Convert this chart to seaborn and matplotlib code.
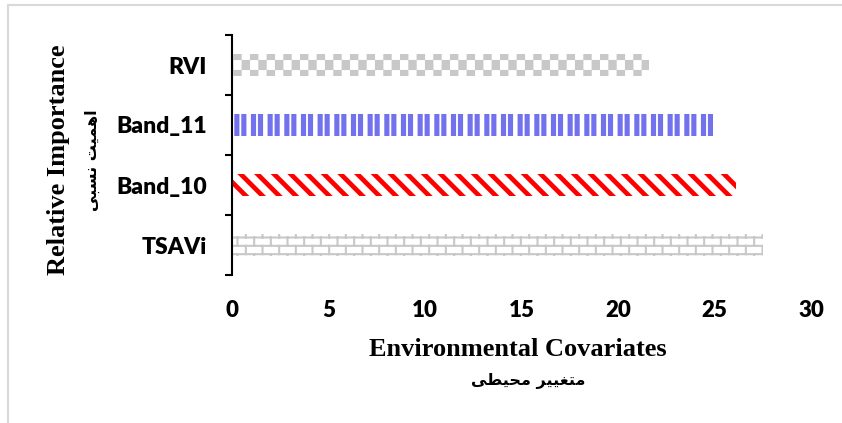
import warnings
import numpy as np
import pandas as pd
import matplotlib
matplotlib.use('Agg')
import matplotlib.pyplot as plt
import matplotlib.hatch as mhatch
from matplotlib import font_manager
from matplotlib.ft2font import FT2Font
from matplotlib.path import Path
from matplotlib.lines import Line2D
from matplotlib.ticker import FixedLocator
import seaborn as sns

warnings.filterwarnings('ignore')

# ---------------- data ----------------
categories = ['RVI', 'Band_11', 'Band_10', 'TSAVi']
importance = [21.6, 24.9, 26.1, 27.5]
x_ticks = [0, 5, 10, 15, 20, 25, 30]
x_label = 'Environmental Covariates'
x_label_fa = 'متغییر محیطی'
y_label = 'Relative Importance'
y_label_fa = 'اهمیت نسبی'

# ---------------- custom fill patterns ----------------
class _RectHatch(mhatch.HatchPatternBase):
    key = '#'

    def rects(self):
        return []

    def __init__(self, hatch, density):
        self.items = self.rects() if self.key in hatch else []
        self.num_vertices = 5 * len(self.items)

    def set_vertices_and_codes(self, vertices, codes):
        for k, (x, y, w, h) in enumerate(self.items):
            vertices[5 * k:5 * k + 5] = [(x, y), (x + w, y), (x + w, y + h), (x, y + h), (x, y)]
            codes[5 * k] = Path.MOVETO
            codes[5 * k + 1:5 * k + 4] = Path.LINETO
            codes[5 * k + 4] = Path.CLOSEPOLY


class CheckerHatch(_RectHatch):
    key = 'c'

    def rects(self):
        nx, ny = 12, 10
        return [(i / nx, j / ny, 1 / nx, 1 / ny)
                for i in range(nx) for j in range(ny) if (i + j) % 2 == 0]


class PairStripeHatch(_RectHatch):
    key = 'p'

    def rects(self):
        out = []
        for k in range(6):
            x0 = k / 6 + 0.01
            out.append((x0, -0.01, 0.05, 1.02))
            out.append((x0 + 0.07, -0.01, 0.05, 1.02))
        return out


class BrickHatch(mhatch.HatchPatternBase):
    def __init__(self, hatch, density):
        self.on = 'k' in hatch
        self.segs = []
        if self.on:
            rows = 12
            for j in range(rows):
                y = (j + 0.5) / rows
                self.segs.append(((0, y), (1, y)))
                for i in range(6):
                    x = (i + 0.25 + 0.5 * (j % 2)) / 6
                    self.segs.append(((x, y), (x, y + 1 / rows)))
        self.num_vertices = 2 * len(self.segs)

    def set_vertices_and_codes(self, vertices, codes):
        for k, (a, b) in enumerate(self.segs):
            vertices[2 * k] = a
            vertices[2 * k + 1] = b
            codes[2 * k] = Path.MOVETO
            codes[2 * k + 1] = Path.LINETO


mhatch._hatch_types.extend([CheckerHatch, PairStripeHatch, BrickHatch])

# ---------------- simple Persian shaping for display ----------------
_ar_font_path = font_manager.findfont(font_manager.FontProperties(family='DejaVu Sans', weight='bold'))
_cmap = FT2Font(_ar_font_path).get_charmap()
_yeh = (0xFBFC, 0xFBFD, 0xFBFE, 0xFBFF)
if not all(c in _cmap for c in _yeh):
    _yeh = (0xFEEF, 0xFEF0, 0xFEF3, 0xFEF4)
FORMS = {
    '\u0627': (0xFE8D, 0xFE8E, None, None),
    '\u0628': (0xFE8F, 0xFE90, 0xFE91, 0xFE92),
    '\u062A': (0xFE95, 0xFE96, 0xFE97, 0xFE98),
    '\u062D': (0xFEA1, 0xFEA2, 0xFEA3, 0xFEA4),
    '\u0631': (0xFEAD, 0xFEAE, None, None),
    '\u0633': (0xFEB1, 0xFEB2, 0xFEB3, 0xFEB4),
    '\u0637': (0xFEC1, 0xFEC2, 0xFEC3, 0xFEC4),
    '\u063A': (0xFECD, 0xFECE, 0xFECF, 0xFED0),
    '\u0645': (0xFEE1, 0xFEE2, 0xFEE3, 0xFEE4),
    '\u0646': (0xFEE5, 0xFEE6, 0xFEE7, 0xFEE8),
    '\u0647': (0xFEE9, 0xFEEA, 0xFEEB, 0xFEEC),
    '\u06CC': _yeh,
    '\u064A': _yeh,
    '\u0649': _yeh,
}


def shape_rtl(s):
    out = []
    for i, c in enumerate(s):
        if c not in FORMS:
            out.append(c)
            continue
        prev = s[i - 1] if i > 0 else ''
        nxt = s[i + 1] if i + 1 < len(s) else ''
        jp = prev in FORMS and FORMS[prev][2] is not None
        jn = FORMS[c][2] is not None and nxt in FORMS
        iso, fin, ini, med = FORMS[c]
        cp = med if (jp and jn) else fin if jp else ini if jn else iso
        out.append(chr(cp))
    return ''.join(reversed(out))


# ---------------- figure ----------------
sns.set_theme(style='white')
plt.rcParams['font.family'] = ['Lato', 'DejaVu Sans']

W, H = 842, 423
fig = plt.figure(figsize=(W / 100, H / 100), dpi=100)
fig.patch.set_facecolor('white')
ax = fig.add_axes([232 / W, 1 - 275 / H, (811 - 232) / W, 240 / H])

df = pd.DataFrame({'category': categories, 'importance': importance})
sns.barplot(data=df, x='importance', y='category', orient='h', width=0.37,
            color='white', ax=ax)

styles = [('#c8c8c8', 'c', 0.1),
          ('#7272ee', 'p', 0.1),
          ('#ff0000', '\\\\', 3.4),
          ('#c8c8c8', 'k', 1.5)]
for patch, (ec, h, hlw) in zip(ax.patches, styles):
    patch.set_facecolor('white')
    patch.set_edgecolor(ec)
    patch.set_linewidth(0)
    patch.set_hatch(h)
    try:
        patch.set_hatch_linewidth(hlw)
    except AttributeError:
        pass

ax.set_xlim(0, 30)
ax.set_xticks(x_ticks)
ax.set_xticklabels([str(t) for t in x_ticks])
ax.set_xlabel('')
ax.set_ylabel('')

for side in ['top', 'right', 'bottom']:
    ax.spines[side].set_visible(False)
ax.spines['left'].set_color('black')
ax.spines['left'].set_linewidth(1.5)

ax.tick_params(axis='x', length=0, pad=18, labelsize=16, labelcolor='black')
ax.tick_params(axis='y', which='major', length=0, pad=18, labelsize=16.5, labelcolor='black')
ax.yaxis.set_minor_locator(FixedLocator([-0.5, 0.5, 1.5, 2.5, 3.5]))
ax.tick_params(axis='y', which='minor', left=True, length=5, width=1.5, color='black')
for lab in ax.get_xticklabels() + ax.get_yticklabels():
    lab.set_fontweight('heavy')
    lab.set_family(['Lato', 'DejaVu Sans'])

serif = ['Liberation Serif', 'DejaVu Serif']
fig.text(518 / W, 1 - 356 / H, x_label, ha='center', va='baseline',
         family=serif, fontweight='bold', fontsize=19, color='black')
fig.text(528 / W, 1 - 381 / H, shape_rtl(x_label_fa), ha='center', va='center',
         family=['DejaVu Sans'], fontweight='bold', fontsize=11.5, color='black')
fig.text(59 / W, 1 - 160 / H, y_label, ha='center', va='center', rotation=90,
         family=serif, fontweight='bold', fontsize=19, color='black')
fig.text(92 / W, 1 - 160 / H, shape_rtl(y_label_fa), ha='center', va='center', rotation=90,
         family=['DejaVu Sans'], fontweight='bold', fontsize=11.5, color='black')

# light outer frame of the chart area
fig.add_artist(Line2D([8 / W, 8 / W], [0, 1 - 5 / H], transform=fig.transFigure,
                      color='#d9d9d9', lw=1.5))
fig.add_artist(Line2D([8 / W, 1], [1 - 5 / H, 1 - 5 / H], transform=fig.transFigure,
                      color='#d9d9d9', lw=1.5))

fig.savefig('out.png', dpi=100, facecolor='white')
